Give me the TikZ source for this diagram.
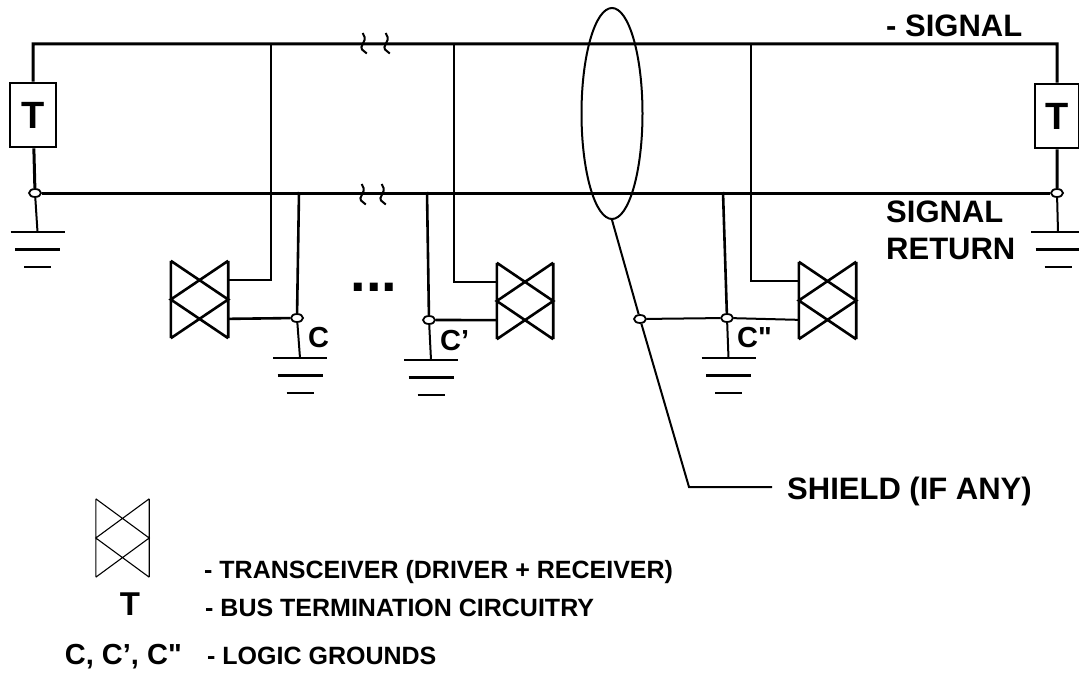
\documentclass[tikz,border=0pt]{standalone}
\usepackage{fontspec}
\setmainfont{Liberation Sans}[Ligatures=TeXOff]
\usetikzlibrary{calc,shapes.geometric}
\begin{document}
\begin{tikzpicture}[x=1pt,y=-1pt,
  bus/.style={line width=3pt,line join=miter},
  wire/.style={line width=2.6pt,line join=miter},
  swire/.style={line width=2pt},
  junc/.style={ellipse,draw,fill=white,line width=1.8pt,minimum width=12pt,minimum height=8pt,inner sep=0},
  tbox/.style={draw,line width=2.6pt,fill=white,minimum height=64pt,inner sep=0,font=\fontsize{38}{38}\selectfont\bfseries},
  lbl/.style={font=\fontsize{31}{31}\selectfont\bfseries,inner sep=0},
  clbl/.style={font=\fontsize{29}{29}\selectfont\bfseries,inner sep=0},
  leg/.style={font=\fontsize{25}{25}\selectfont\bfseries,inner sep=0},
  xcvr/.style={minimum width=57pt,minimum height=77pt,inner sep=0},
  gnd/.pic={\draw[line width=2.8pt] (-27,0) -- (27,0) (-22.5,17.5) -- (22.5,17.5) (-13.5,35) -- (13.5,35);},
  brk/.pic={\draw[line width=2pt,line join=round,rounded corners=1.5pt] (-1.3,-11) -- (1.2,-5.5) -- (-3.2,4.5) -- (2.8,9.5);}
]
\useasboundingbox (0,0) rectangle (1079,677);

% bus end points and termination
\coordinate (sigL) at (33,44);
\coordinate (sigR) at (1057,44);
\node[tbox,minimum width=46pt] (TL) at (33,115) {T};
\node[tbox,minimum width=44pt] (TR) at (1057,116) {T};
\node[junc] (jL) at (35,193) {};
\node[junc] (jR) at (1057,193) {};
\draw[bus] (jL) -- (TL) -- (sigL) -- (sigR) -- (TR) -- (jR);
\draw[bus] (jL) -- (jR);

% grounds at ends
\coordinate (gL) at (37.5,232);
\coordinate (gR) at (1058,232);
\draw[swire] (jL) -- (gL);
\draw[swire] (jR) -- (gR);
\pic at (gL) {gnd};
\pic at (gR) {gnd};

% break marks
\pic at (364,44) {brk};
\pic at (387,44) {brk};
\pic at (363,195) {brk};
\pic at (383,195) {brk};

% transceivers
\node[xcvr] (X1) at (199.5,299.5) {};
\node[xcvr,minimum width=56pt,minimum height=76pt] (X2) at (525,301) {};
\node[xcvr] (X3) at (827.5,300.5) {};
\node[xcvr,minimum width=53pt,minimum height=78pt] (XL) at (122.5,538) {};
\foreach \n/\lw in {X1/2.6pt,X2/2.6pt,X3/2.6pt,XL/1.1pt}{
  \draw[line width=\lw,line join=miter]
    (\n.north west) -- (\n.south west)
    (\n.north east) -- (\n.south east)
    (\n.north west) -- (\n.east) -- (\n.south west)
    (\n.north east) -- (\n.west) -- (\n.south east);
}

% junctions for logic grounds and shield
\node[junc] (jC) at (297,318) {};
\node[junc] (jC2) at (429,320) {};
\node[junc] (jC3) at (727,318) {};
\node[junc] (jS) at (640,319) {};

% group 1
\coordinate (s1) at (271,44);
\coordinate (r1) at (299,192);
\draw[wire] (s1) |- ($(X1.north east)!0.25!(X1.south east)$);
\draw[wire] (r1) -- (jC);
\draw[wire] ($(X1.north east)!0.75!(X1.south east)$) -- (jC);
\coordinate (gC) at (300,358);
\draw[swire] (jC) -- (gC);
\pic at (gC) {gnd};

% group 2
\coordinate (s2) at (454,44);
\coordinate (r2) at (427,192);
\draw[wire] (s2) |- ($(X2.north west)!0.25!(X2.south west)$);
\draw[wire] (r2) -- (jC2);
\draw[wire] (jC2) -- ($(X2.north west)!0.75!(X2.south west)$);
\coordinate (gC2) at (431,360);
\draw[swire] (jC2) -- (gC2);
\pic at (gC2) {gnd};

% group 3
\coordinate (s3) at (751,44);
\coordinate (r3) at (723,192);
\draw[wire] (s3) |- ($(X3.north west)!0.25!(X3.south west)$);
\draw[wire] (r3) -- (jC3);
\draw[swire] (jC3) -- ($(X3.north west)!0.75!(X3.south west)$);
\coordinate (gC3) at (728.5,358);
\draw[swire] (jC3) -- (gC3);
\pic at (gC3) {gnd};

% shield
\node[ellipse,draw,line width=2pt,minimum width=61pt,minimum height=211pt,inner sep=0] (shield) at (612,113.5) {};
\node[lbl,anchor=base west] (lS) at (787,499) {SHIELD (IF ANY)};
\coordinate (sk) at (689,487);
\coordinate (se) at (772,487);
\draw[swire] (shield.south) -- (jS);
\draw[swire] (jS) -- (sk) -- (se);
\draw[swire] (jS) -- (jC3);

% dots
\node[font=\fontsize{56}{56}\selectfont\bfseries,inner sep=0] (dots) at (374,287) {...};

% labels
\node[lbl,anchor=base west] (lSig) at (886,37) {- SIGNAL};
\node[lbl,anchor=base west] (lRet1) at (886,222) {SIGNAL};
\node[lbl,anchor=base west] (lRet2) at (886,259) {RETURN};
\node[clbl,anchor=base west] (lC) at (308,347) {C};
\node[clbl,anchor=base west] (lC2) at (440,350) {C’};
\node[clbl,anchor=base west] (lC3) at (737,347) {C"};

% legend
\node[leg,anchor=base west] (legX) at (204,578) {- TRANSCEIVER (DRIVER + RECEIVER)};
\node[font=\fontsize{33}{33}\selectfont\bfseries,inner sep=0,anchor=base] (legT) at (130,615) {T};
\node[leg,anchor=base west] (legTt) at (205,616) {- BUS TERMINATION CIRCUITRY};
\node[clbl,anchor=base east] (legC) at (182,664) {C, C’, C"};
\node[leg,anchor=base west] (legCt) at (207,664) {- LOGIC GROUNDS};
\end{tikzpicture}
\end{document}
